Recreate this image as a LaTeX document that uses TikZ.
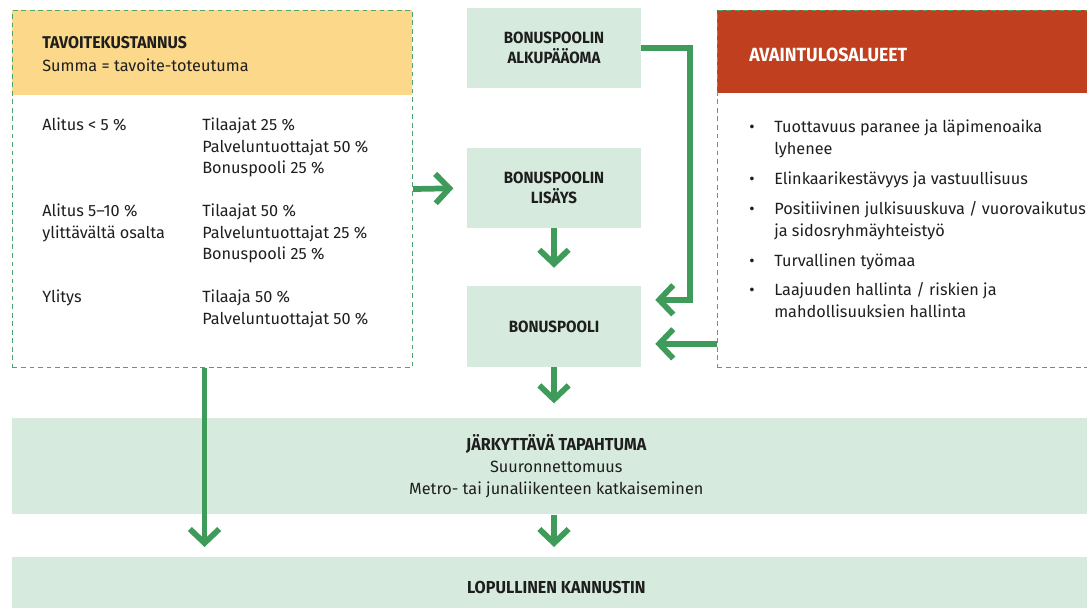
\documentclass[tikz,border=0pt]{standalone}
\usepackage{fontspec}
\setmainfont{Fira Sans}
\newfontfamily\hdr[FakeStretch=0.93]{Fira Sans}
\usetikzlibrary{arrows.meta,calc}
\definecolor{agreen}{RGB}{62,155,90}
\definecolor{lgreen}{RGB}{214,235,222}
\definecolor{yel}{RGB}{252,216,139}
\definecolor{redh}{RGB}{192,63,30}
\definecolor{dgreen}{RGB}{80,165,110}
\definecolor{txt}{RGB}{30,30,30}
\begin{document}
\begin{tikzpicture}[x=0.75pt,y=-0.75pt,
  dashbox/.style={draw=dgreen, line width=0.8pt, dash pattern=on 3.6pt off 2.8pt, inner sep=0pt},
  hfill/.style={fill=#1, draw=none, inner sep=0pt},
  pbox/.style={fill=lgreen, inner sep=0pt, minimum width=174*0.75pt, minimum height=80*0.75pt, align=center, text=txt, font=\hdr\bfseries\fontsize{12.2pt}{15.5pt}\selectfont},
  band/.style={fill=lgreen, inner sep=0pt, minimum width=1088*0.75pt, anchor=north west, align=center, text=txt},
  body/.style={anchor=base west, inner sep=0pt, text=txt, font=\fontsize{12.2pt}{16pt}\selectfont},
  htitle/.style={anchor=base west, inner sep=0pt, font=\hdr\bfseries\fontsize{12.8pt}{15pt}\selectfont},
  arr/.style={draw=agreen, line width=4.3pt, -{Straight Barb[length=10.5pt, width=22pt]}}
]
\useasboundingbox (0,0) rectangle (1087,607);

% left box
\node[hfill=yel, minimum width=400*0.75pt, minimum height=85*0.75pt, anchor=north west] (tkh) at (12,10) {};
\node[dashbox, minimum width=400*0.75pt, minimum height=357*0.75pt, anchor=north west] (tk) at (12,10) {};
\node[htitle, text=txt] (tkt) at (42,48) {TAVOITEKUSTANNUS};
\node[body] (tks) at (42,71) {Summa = tavoite-toteutuma};
\node[body] (a1) at (42,130) {Alitus < 5 \%};
\node[body] (b1) at (202,130) {Tilaajat 25 \%};
\node[body] (b2) at (202,152) {Palveluntuottajat 50 \%};
\node[body] (b3) at (202,173) {Bonuspooli 25 \%};
\node[body] (a2) at (42,216) {Alitus 5–10 \%};
\node[body] (a3) at (42,238) {ylittävältä osalta};
\node[body] (c1) at (202,216) {Tilaajat 50 \%};
\node[body] (c2) at (202,238) {Palveluntuottajat 25 \%};
\node[body] (c3) at (202,259) {Bonuspooli 25 \%};
\node[body] (a4) at (42,302) {Ylitys};
\node[body] (d1) at (202,302) {Tilaaja 50 \%};
\node[body] (d2) at (202,324) {Palveluntuottajat 50 \%};

% right box
\node[hfill=redh, minimum width=400*0.75pt, minimum height=83*0.75pt, anchor=north west] (avh) at (717,10) {};
\node[dashbox, minimum width=400*0.75pt, minimum height=357*0.75pt, anchor=north west] (av) at (717,10) {};
\node[htitle, text=white, font=\hdr\bfseries\fontsize{14.3pt}{16pt}\selectfont] (avt) at (749,61) {AVAINTULOSALUEET};
\node[body] (u1) at (749,132) {•};
\node[body] (v1) at (774,132) {Tuottavuus paranee ja läpimenoaika};
\node[body] (v1b) at (774,154) {lyhenee};
\node[body] (u2) at (749,184) {•};
\node[body] (v2) at (774,184) {Elinkaarikestävyys ja vastuullisuus};
\node[body] (u3) at (749,214) {•};
\node[body] (v3) at (774,214) {Positiivinen julkisuuskuva / vuorovaikutus};
\node[body] (v3b) at (774,236) {ja sidosryhmäyhteistyö};
\node[body] (u4) at (749,266) {•};
\node[body] (v4) at (774,266) {Turvallinen työmaa};
\node[body] (u5) at (749,295) {•};
\node[body] (v5) at (774,295) {Laajuuden hallinta / riskien ja};
\node[body] (v5b) at (774,317) {mahdollisuuksien hallinta};

% middle boxes
\node[pbox] (alku) at (554,48) {BONUSPOOLIN\\ALKUPÄÄOMA};
\node[pbox] (lisays) at (554,188) {BONUSPOOLIN\\LISÄYS};
\node[pbox, minimum height=81*0.75pt] (pool) at (554,326.5) {BONUSPOOLI};

% bands
\node[band, minimum height=96*0.75pt, font=\fontsize{12.2pt}{16.3pt}\selectfont] (jark) at (12,418)
  {{\hdr\bfseries\fontsize{13pt}{16.3pt}\selectfont JÄRKYTTÄVÄ TAPAHTUMA}\\
   Suuronnettomuus\\
   Metro- tai junaliikenteen katkaiseminen};
\node[band, minimum height=60*0.75pt] (lop) at (12,557)
  {\hdr\bfseries\fontsize{13pt}{15pt}\selectfont LOPULLINEN KANNUSTIN};

% connectors
\coordinate (p3) at ([yshift=20pt]pool.east);
\coordinate (p4) at ([yshift=-13pt]pool.east);
\coordinate (p6) at ([xshift=-6pt]tk.south);
\draw[arr, shorten >=10pt] (tk.east) -- (lisays.west);
\draw[arr, shorten >=13.5pt] (lisays.south) -- (pool.north);
\draw[arr, shorten >=10.5pt] (alku.east) -- ++(49,0) |- (p3);
\draw[arr, shorten >=10.5pt] (p4 -| av.west) -- (p4);
\draw[arr, shorten >=11pt] (pool.south) -- (pool.south |- jark.north);
\draw[arr, shorten >=7.5pt] (p6) -- (p6 |- lop.north);
\draw[arr, shorten >=7.5pt] (pool.south |- jark.south) -- (pool.south |- lop.north);
\end{tikzpicture}
\end{document}
